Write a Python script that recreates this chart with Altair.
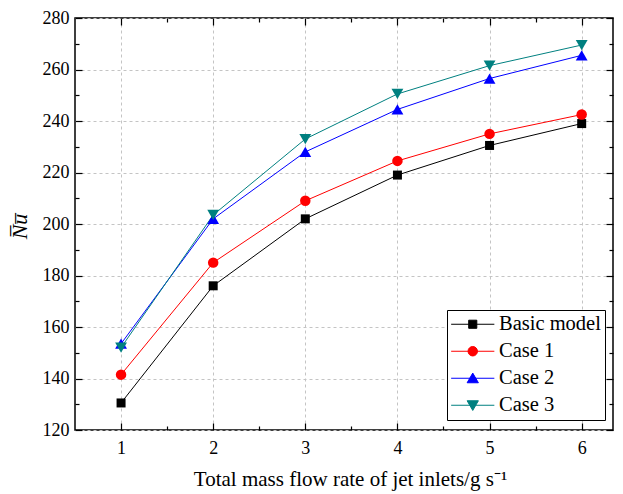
import altair as alt
import pandas as pd

# ---- data ----
x_vals = [1, 2, 3, 4, 5, 6]
series_names = ["Basic model", "Case 1", "Case 2", "Case 3"]
basic_model = [130.5, 176.0, 202.0, 219.0, 230.5, 239.0]
case_1 = [141.5, 185.0, 209.0, 224.5, 235.0, 242.5]
case_2 = [153.5, 202.0, 228.0, 244.5, 256.5, 265.5]
case_3 = [152.0, 203.5, 233.0, 250.5, 261.5, 269.5]
colors = ["#000000", "#ff0000", "#0000ff", "#008080"]
marker_shapes = ["square", "circle", "triangle-up", "triangle-down"]
marker_sizes = [81, 110, 140, 140]
x_ticks = [1, 2, 3, 4, 5, 6]
x_minor = [1.5, 2.5, 3.5, 4.5, 5.5]
y_ticks = [120, 140, 160, 180, 200, 220, 240, 260, 280]
y_minor = [130, 150, 170, 190, 210, 230, 250, 270]

# legend symbols: line segment plus marker (custom paths)
legend_paths = [
    "M-4.8,0H4.8M-0.9,-0.9H0.9V0.9H-0.9Z",
    "M-4.8,0H4.8M-1.05,0A1.05,1.05,0,1,0,1.05,0A1.05,1.05,0,1,0,-1.05,0Z",
    "M-4.8,0H4.8M0,-1.15L1.25,1.0H-1.25Z",
    "M-4.8,0H4.8M0,1.15L1.25,-1.0H-1.25Z",
]

rows = []
for name, vals in zip(series_names, [basic_model, case_1, case_2, case_3]):
    for xv, yv in zip(x_vals, vals):
        rows.append({"rate": xv, "nu": yv, "series": name})
df = pd.DataFrame(rows)

FONT = "Liberation Serif"
x_scale = alt.Scale(domain=[0.5, 6.34], nice=False, zero=False)
y_scale = alt.Scale(domain=[120, 280], nice=False, zero=False)

GRID = dict(grid=True, gridColor="#c4c4c4", gridDash=[3, 3], gridWidth=1)


def tick_axis(orient, values, size):
    return alt.Axis(orient=orient, values=values, tickSize=size, offset=-size,
                    labels=False, domain=False, grid=False, title=None,
                    ticks=True, tickColor="black", tickWidth=1.2)


x_main = alt.Axis(orient="bottom", values=x_ticks, format="d",
                  title="Total mass flow rate of jet inlets/g s\u207b\u00b9",
                  titleFont=FONT, titleFontSize=21, titleFontWeight="normal",
                  titleColor="black", titleX=275, titleY=49,
                  titleAlign="center", titleBaseline="middle",
                  labelFont=FONT, labelFontSize=18, labelColor="black",
                  labelPadding=9, ticks=False, domain=False, **GRID)
y_main = alt.Axis(orient="left", values=y_ticks, format="d",
                  title="N\u0305u\u0305",
                  titleFont=FONT, titleFontSize=22, titleFontWeight="normal",
                  titleFontStyle="italic", titleColor="black",
                  titleX=-56, titleY=208, titleAngle=270,
                  titleAlign="center", titleBaseline="middle",
                  labelFont=FONT, labelFontSize=18, labelColor="black",
                  labelPadding=6, ticks=False, domain=False, **GRID)


def pos(xaxis, yaxis):
    return dict(x=alt.X("rate:Q", scale=x_scale, axis=xaxis),
                y=alt.Y("nu:Q", scale=y_scale, axis=yaxis))


base = alt.Chart(df)

line_layers = []
for i, (name, col) in enumerate(zip(series_names, colors)):
    xa, ya = (x_main, y_main) if i == 0 else (None, None)
    line_layers.append(
        base.transform_filter(alt.datum.series == name)
        .mark_line(strokeWidth=1, color=col)
        .encode(**pos(xa, ya))
    )

tick_sets = [
    (tick_axis("bottom", x_ticks, 7), tick_axis("left", y_ticks, 7)),
    (tick_axis("bottom", x_minor, 4), tick_axis("left", y_minor, 4)),
    (tick_axis("top", x_ticks, 7), tick_axis("right", y_ticks, 7)),
    (tick_axis("top", x_minor, 4), tick_axis("right", y_minor, 4)),
]

point_layers = []
for name, col, shp, sz, (xa, ya) in zip(series_names, colors, marker_shapes,
                                         marker_sizes, tick_sets):
    point_layers.append(
        base.transform_filter(alt.datum.series == name)
        .mark_point(filled=True, shape=shp, size=sz, opacity=1, strokeWidth=0,
                    color=col)
        .encode(**pos(xa, ya))
    )

legend_props = dict(
    title=None, orient="none", legendX=372, legendY=292,
    strokeColor="black", fillColor="white", padding=4,
    labelFont=FONT, labelFontSize=20.5, labelColor="black", labelLimit=300,
    symbolSize=81, symbolOffset=11.5, labelOffset=16, rowPadding=6,
    symbolStrokeWidth=1, symbolOpacity=1, cornerRadius=0,
)

legend_layer = base.mark_point(filled=True, size=0, opacity=1).encode(
    **pos(None, None),
    color=alt.Color("series:N", scale=alt.Scale(domain=series_names, range=colors),
                    legend=alt.Legend(**legend_props)),
    stroke=alt.Stroke("series:N", scale=alt.Scale(domain=series_names, range=colors),
                      legend=alt.Legend(**legend_props)),
    shape=alt.Shape("series:N", scale=alt.Scale(domain=series_names, range=legend_paths),
                    legend=alt.Legend(**legend_props)),
)

chart = (
    alt.layer(*line_layers, *point_layers, legend_layer)
    .resolve_axis(x="independent", y="independent")
    .properties(
        width=538, height=412,
        autosize=alt.AutoSizeParams(type="none"),
        padding={"left": 67, "top": 10, "right": 2, "bottom": 62},
        background="white",
    )
    .configure_view(stroke="black", strokeWidth=1.5)
)

chart.save("out.html", embed_options={"renderer": "svg", "actions": False})
